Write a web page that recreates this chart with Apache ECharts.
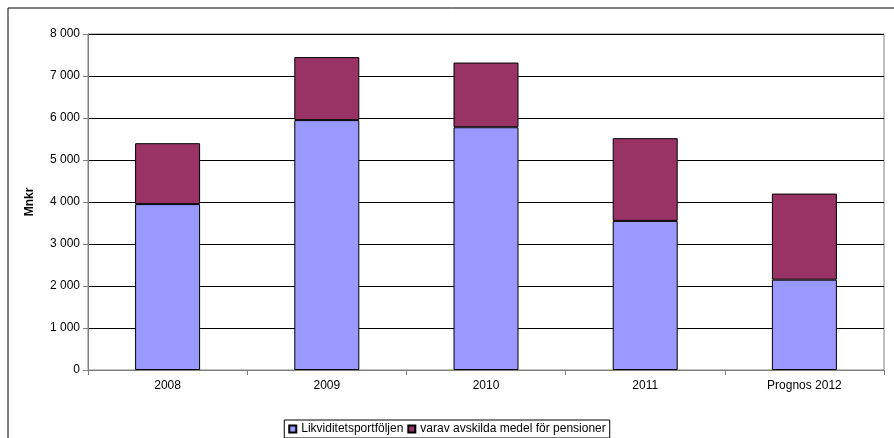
<!DOCTYPE html>
<html><head><meta charset="utf-8">
<script src="https://cdn.jsdelivr.net/npm/echarts@6/dist/echarts.min.js"></script>
<style>html,body{margin:0;padding:0;background:#fff}#main{width:894px;height:438px}</style>
</head><body><div id="main"></div>
<script>
var categories = ['2008', '2009', '2010', '2011', 'Prognos 2012'];
var likviditet = [3950, 5950, 5780, 3550, 2150];
var pensioner = [1450, 1500, 1540, 1970, 2050];
var yTicks = [0, 1000, 2000, 3000, 4000, 5000, 6000, 7000, 8000];

function fmt(v) { return String(v).replace(/\B(?=(\d{3})+(?!\d))/g, ' '); }

var myChart = echarts.init(document.getElementById('main'));
var option = {
    animation: false,
    textStyle: { fontFamily: 'Liberation Sans, Arial', color: '#000' },
    graphic: [{ type: 'rect', shape: { x: 8, y: 8, width: 890, height: 440 }, style: { fill: 'none', stroke: '#000', lineWidth: 1 } }],
    grid: { left: 88, right: 10, top: 34, bottom: 68, show: true, borderColor: '#808080', borderWidth: 1 },
    legend: {
        bottom: 0, left: 'center', itemWidth: 7, itemHeight: 7, itemGap: 4, icon: 'rect',
        borderColor: '#000', borderWidth: 1, padding: [3, 4], borderRadius: 0,
        textStyle: { fontSize: 12, color: '#000' },
        data: ['Likviditetsportföljen', 'varav avskilda medel för pensioner']
    },
    xAxis: {
        type: 'category', data: categories,
        axisLine: { lineStyle: { color: '#808080' } },
        axisTick: { show: true, alignWithLabel: false, lineStyle: { color: '#808080' } },
        axisLabel: { color: '#000', fontSize: 12, margin: 10 }
    },
    yAxis: {
        type: 'value', min: 0, max: 8000, interval: 1000,
        name: 'Mnkr', nameLocation: 'middle', nameGap: 52, nameRotate: 90,
        nameTextStyle: { fontWeight: 'bold', fontSize: 12, color: '#000' },
        axisLine: { show: true, lineStyle: { color: '#808080' } },
        axisTick: { show: true, inside: false, lineStyle: { color: '#808080' } },
        splitLine: { lineStyle: { color: '#000', width: 1 } },
        axisLabel: { color: '#000', fontSize: 12, formatter: function (v) { return yTicks.indexOf(v) >= 0 ? fmt(v) : ''; } }
    },
    series: [
        { name: 'Likviditetsportföljen', type: 'bar', stack: 't', data: likviditet, barWidth: 65,
          itemStyle: { color: '#9999FF', borderColor: '#000', borderWidth: 1 } },
        { name: 'varav avskilda medel för pensioner', type: 'bar', stack: 't', data: pensioner, barWidth: 65,
          itemStyle: { color: '#993366', borderColor: '#000', borderWidth: 1 } }
    ]
};
myChart.setOption(option);
</script></body></html>
